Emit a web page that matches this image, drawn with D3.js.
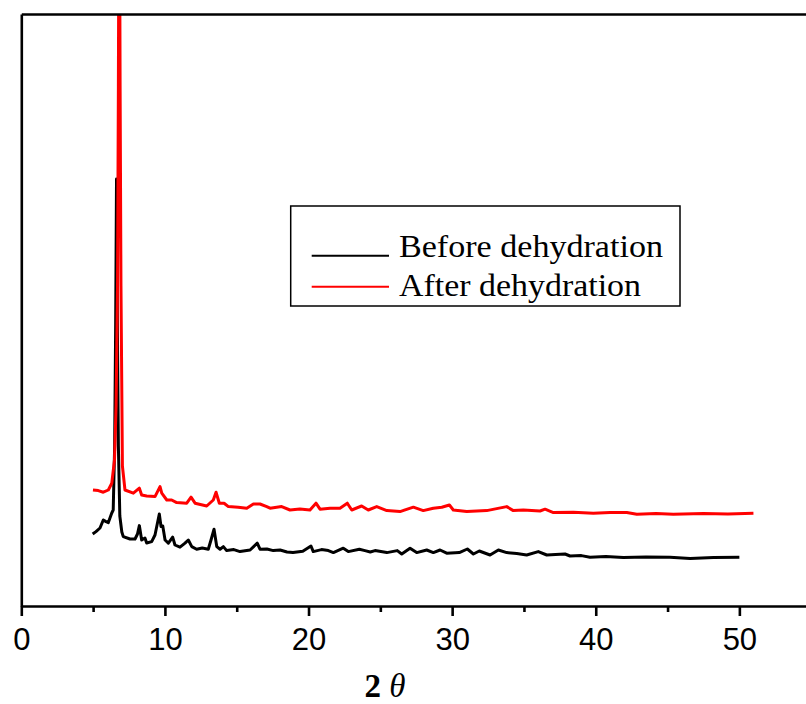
<!DOCTYPE html>
<html>
<head>
<meta charset="utf-8">
<script src="https://cdn.jsdelivr.net/npm/d3@7"></script>
<style>
  body { margin: 0; background: #fff; }
</style>
</head>
<body>
<div id="canvas"></div>
<script>
"use strict";

// XRD patterns (2theta, intensity in arbitrary counts)
let beforeTheta = [4.97, 5.20, 5.48, 5.71, 5.90, 6.06, 6.30, 6.40, 6.50, 6.57, 6.63, 6.69, 6.76, 6.86, 7.00,
  7.10, 7.57, 7.92, 8.09, 8.22, 8.38, 8.61, 8.73, 9.08, 9.31, 9.61, 9.73, 9.85, 10.01, 10.24, 10.54, 10.70,
  11.05, 11.40, 11.63, 11.87, 12.21, 12.60, 13.02, 13.21, 13.42, 13.61, 13.84, 14.07, 14.30, 14.80, 15.23,
  15.93, 16.43, 16.62, 17.10, 17.55, 18.02, 18.50, 18.92, 19.60, 20.17, 20.33, 20.90, 21.38, 21.73, 22.42,
  22.77, 23.54, 23.93, 24.30, 24.63, 25.45, 26.18, 26.49, 27.07, 27.53, 28.23, 28.69, 29.16, 29.62, 30.50,
  31.06, 31.48, 31.89, 32.64, 33.22, 33.80, 34.50, 35.19, 36.00, 36.59, 37.20, 37.86, 38.21, 39.00, 39.60,
  40.70, 41.92, 43.50, 45.17, 46.57, 48.20, 50.00];
let beforeCounts = [360, 372, 390, 430, 422, 417, 465, 480, 800, 1400, 2135, 1400, 800, 450, 370,
  347, 335, 335, 360, 402, 330, 340, 315, 322, 355, 460, 397, 400, 330, 314, 344, 305,
  294, 314, 330, 297, 284, 290, 284, 330, 384, 297, 284, 297, 277, 282, 272,
  280, 314, 284, 285, 277, 280, 270, 267, 274, 300, 272, 282, 277, 267, 289,
  272, 284, 277, 270, 277, 267, 277, 260, 289, 267, 280, 267, 280, 264, 267,
  285, 260, 275, 255, 280, 267, 262, 255, 272, 255, 257, 260, 250, 252, 244,
  247, 242, 245, 244, 237, 242, 244];

let afterTheta = [4.99, 5.36, 5.71, 6.06, 6.30, 6.49, 6.60, 6.70, 6.76, 6.82, 6.88, 6.94, 7.04, 7.22,
  7.80, 8.22, 8.38, 8.73, 9.31, 9.66, 9.78, 10.13, 10.47, 10.82, 11.52, 11.82, 12.10, 12.91, 13.37, 13.56,
  13.79, 14.12, 14.42, 15.10, 15.70, 16.16, 16.62, 17.09, 17.32, 18.13, 18.71, 19.40, 20.10, 20.52, 20.80,
  21.50, 22.19, 22.70, 23.01, 23.70, 24.16, 24.75, 25.45, 26.37, 27.30, 27.99, 28.69, 29.28, 29.81, 30.08,
  31.02, 32.41, 33.80, 34.26, 34.96, 36.12, 36.47, 37.05, 38.44, 39.83, 41.00, 42.16, 42.86, 44.20, 45.40,
  47.50, 49.20, 50.98];
let afterCounts = [580, 577, 569, 580, 614, 730, 1000, 1600, 2600, 4000, 2600, 1600, 700, 580,
  564, 589, 555, 550, 547, 597, 564, 530, 530, 517, 514, 544, 514, 500, 530, 569,
  514, 514, 497, 494, 489, 510, 510, 497, 489, 497, 480, 485, 480, 514, 484,
  489, 489, 514, 480, 500, 480, 497, 477, 472, 494, 477, 489, 494, 505, 480,
  472, 477, 497, 477, 480, 475, 484, 467, 469, 464, 468, 467, 459, 463, 459,
  462, 460, 464];

let xTicks = [0, 10, 20, 30, 40, 50];
let xMinorTicks = [5, 15, 25, 35, 45];
let seriesNames = ["Before dehydration", "After dehydration"];
let seriesColors = ["#000000", "#ff0000"];

let width = 806;
let height = 704;
let plotLeft = 21.3, plotTop = 14, plotRight = 806, plotBottom = 606;
let serif = "'Times New Roman', Times, 'Liberation Serif', serif";
let sans = "Arial, Helvetica, 'Liberation Sans', sans-serif";

let svg = d3.select("#canvas")
  .append("svg")
  .attr("width", width)
  .attr("height", height);

let x = d3.scaleLinear()
  .domain([0, 54.64])
  .range([plotLeft, plotRight]);

let y = d3.scaleLinear()
  .domain([0, 2960])
  .range([plotBottom, plotTop]);

// clip so the big red peak is cut at the top frame
svg.append("clipPath")
  .attr("id", "plot")
  .append("rect")
  .attr("x", plotLeft)
  .attr("y", plotTop)
  .attr("width", plotRight - plotLeft)
  .attr("height", plotBottom - plotTop);

let line = d3.line()
  .x(d => x(d[0]))
  .y(d => y(d[1]));

let series = [
  d3.zip(beforeTheta, beforeCounts),
  d3.zip(afterTheta, afterCounts)
];

svg.append("g")
  .attr("clip-path", "url(#plot)")
  .selectAll("path")
  .data(series)
  .enter()
  .append("path")
  .attr("d", line)
  .attr("fill", "none")
  .attr("stroke", (d, i) => seriesColors[i])
  .attr("stroke-width", 3)
  .attr("stroke-linejoin", "round");

// bottom axis
let bottomAxis = svg.append("g")
  .attr("transform", `translate(0, ${plotBottom})`)
  .call(d3.axisBottom(x).tickValues(xTicks).tickSize(10).tickSizeOuter(0).tickPadding(12));

bottomAxis.selectAll("text")
  .style("font-family", sans)
  .style("font-size", "31px")
  .attr("fill", "#000");

svg.append("g")
  .attr("transform", `translate(0, ${plotBottom})`)
  .call(d3.axisBottom(x).tickValues(xMinorTicks).tickSize(6).tickSizeOuter(0).tickFormat(""))
  .select(".domain").remove();

// top and left frame lines
svg.append("g")
  .attr("transform", `translate(0, ${plotTop})`)
  .call(d3.axisTop(x).tickValues([]).tickSizeOuter(0));

svg.append("g")
  .attr("transform", `translate(${plotLeft}, 0)`)
  .call(d3.axisLeft(y).tickValues([]).tickSizeOuter(0));

svg.selectAll(".domain").attr("stroke-width", 2.6);
svg.selectAll(".tick line").attr("stroke-width", 2.6);

// x label
let xlab = svg.append("text")
  .attr("x", 385)
  .attr("y", 697)
  .attr("text-anchor", "middle")
  .style("font-family", serif)
  .style("font-size", "33px");
xlab.append("tspan").style("font-weight", "bold").text("2 ");
xlab.append("tspan").style("font-style", "italic").text("θ");

// legend
let legend = svg.append("g");
legend.append("rect")
  .attr("x", 290.7)
  .attr("y", 206)
  .attr("width", 389.3)
  .attr("height", 100)
  .attr("fill", "#fff")
  .attr("stroke", "#000")
  .attr("stroke-width", 1.5);

let lineY = [255.7, 286.7];
let textY = [256.7, 296];
let textW = [264, 242];

legend.selectAll("line.key")
  .data(seriesNames)
  .enter()
  .append("line")
  .attr("class", "key")
  .attr("x1", 311.7)
  .attr("x2", 389)
  .attr("y1", (d, i) => lineY[i])
  .attr("y2", (d, i) => lineY[i])
  .attr("stroke", (d, i) => seriesColors[i])
  .attr("stroke-width", 2);

legend.selectAll("text")
  .data(seriesNames)
  .enter()
  .append("text")
  .attr("x", 399)
  .attr("y", (d, i) => textY[i])
  .attr("textLength", (d, i) => textW[i])
  .attr("lengthAdjust", "spacingAndGlyphs")
  .style("font-family", serif)
  .style("font-size", "31px")
  .text(d => d);
</script>
</body>
</html>
